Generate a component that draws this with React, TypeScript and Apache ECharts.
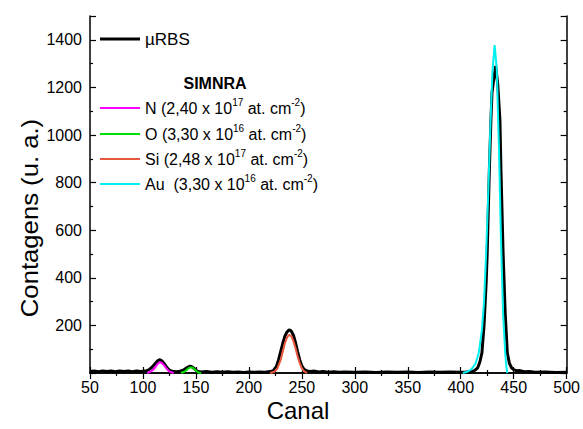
import React, { useEffect, useRef } from "react";
import * as echarts from "echarts";

// Measured µRBS spectrum: [canal, contagens]
const rbsData: [number, number][] = [
  [50, 6], [54, 8], [58, 5], [62, 9], [66, 6], [70, 8], [74, 5], [78, 9], [82, 6], [86, 8],
  [90, 5], [94, 9], [98, 6], [102, 8], [105, 12], [108, 22], [110, 32], [112, 42], [114, 52],
  [116, 56], [118, 50], [120, 40], [122, 27], [124, 16], [126, 10], [129, 6], [132, 5],
  [135, 8], [138, 12], [140, 18], [142, 24], [144, 28], [146, 27], [148, 20], [150, 12],
  [152, 6], [155, 4], [160, 6], [165, 3], [170, 5], [175, 3], [180, 5], [185, 3], [190, 4],
  [195, 2], [200, 4], [205, 3], [210, 4], [215, 3], [220, 6], [223, 10], [226, 28], [228, 55],
  [230, 90], [232, 125], [234, 155], [236, 172], [238, 182], [240, 176], [242, 160],
  [244, 128], [246, 90], [248, 55], [250, 30], [252, 16], [255, 8], [258, 6], [262, 8],
  [266, 4], [270, 6], [275, 3], [280, 5], [285, 3], [290, 4], [300, 3], [310, 4], [320, 2],
  [330, 4], [340, 3], [350, 4], [360, 2], [370, 4], [380, 3], [390, 4], [400, 3], [405, 4],
  [410, 6], [413, 10], [416, 22], [418, 45], [420, 84], [422, 200], [424, 380], [425, 504],
  [427, 850], [428.5, 1063], [429.5, 1176], [431, 1230], [433, 1290], [435, 1210],
  [437, 1063], [438, 850], [440, 504], [442, 250], [444, 84], [446, 40], [448, 22],
  [450, 14], [453, 9], [456, 10], [460, 5], [465, 6], [470, 3], [480, 4], [490, 2], [500, 3],
];

// SIMNRA simulations, one per element
const nData: [number, number][] = [
  [104, 0], [107, 5], [110, 15], [112, 27], [114, 39], [116, 45], [118, 42], [120, 32],
  [122, 20], [124, 10], [126, 4], [129, 0],
];
const oData: [number, number][] = [
  [136, 0], [139, 5], [141, 12], [143, 20], [145, 24], [147, 22], [149, 15], [151, 6],
  [153, 1], [155, 0],
];
const siData: [number, number][] = [
  [220, 0], [224, 5], [227, 20], [230, 55], [232, 90], [234, 125], [236, 150], [238, 160],
  [240, 155], [242, 135], [244, 105], [246, 70], [248, 42], [250, 20], [252, 8], [255, 0],
];
const auData: [number, number][] = [
  [402, 0], [406, 5], [410, 15], [414, 40], [417, 84], [420, 180], [422, 300], [424, 504],
  [426, 760], [428, 1040], [430, 1270], [432, 1378], [434, 1280], [436, 960], [438, 560],
  [440, 250], [442, 84], [443, 30], [444, 0],
];

const xTicks = { min: 50, max: 500, interval: 50 };
const yTicks = { min: 0, max: 1500, interval: 200 };

const FONT = "'Liberation Sans', Arial, sans-serif";

const legendRows = [
  { color: "#ff00ff", label: "N (2,40 x 10{s|17} at. cm{s|-2})" },
  { color: "#00e000", label: "O (3,30 x 10{s|16} at. cm{s|-2})" },
  { color: "#e8583c", label: "Si (2,48 x 10{s|17} at. cm{s|-2})" },
  { color: "#00f0f0", label: "Au  (3,30 x 10{s|16} at. cm{s|-2})" },
];

export default function App() {
  const ref = useRef<HTMLDivElement>(null);

  useEffect(() => {
    if (!ref.current) return;
    const chart = echarts.init(ref.current, null, { renderer: "svg" });

    const axisLine = { show: true, lineStyle: { color: "#000", width: 1.5 } };
    const tick = { show: true, inside: true, length: 6, lineStyle: { color: "#000", width: 1.2 } };
    const minor = { show: true, splitNumber: 2, length: 3, lineStyle: { color: "#000", width: 1.2 } };

    const rows: any[] = [];
    const rowY = [108, 134, 159, 184];
    legendRows.forEach((r, i) => {
      rows.push({
        type: "line",
        shape: { x1: 100, y1: rowY[i], x2: 140, y2: rowY[i] },
        style: { stroke: r.color, lineWidth: 2 },
      });
      rows.push({
        type: "text",
        x: 145,
        y: rowY[i],
        style: {
          text: r.label,
          fill: "#000",
          font: `16px ${FONT}`,
          lineHeight: 22,
          verticalAlign: "middle",
          rich: {
            s: { fontSize: 10, fontFamily: FONT, verticalAlign: "top", lineHeight: 10, fill: "#000" },
          },
        },
      });
    });

    chart.setOption({
      animation: false,
      backgroundColor: "#fff",
      grid: { left: 90, right: 15, top: 16, bottom: 56 },
      xAxis: [
        {
          type: "value",
          ...xTicks,
          axisLine,
          axisTick: tick,
          minorTick: minor,
          splitLine: { show: false },
          axisLabel: { fontFamily: FONT, fontSize: 16, color: "#000", margin: 6 },
        },
        {
          type: "value",
          position: "top",
          ...xTicks,
          axisLine,
          axisTick: tick,
          minorTick: minor,
          splitLine: { show: false },
          axisLabel: { show: false },
        },
      ],
      yAxis: [
        {
          type: "value",
          ...yTicks,
          axisLine,
          axisTick: tick,
          minorTick: minor,
          splitLine: { show: false },
          axisLabel: {
            fontFamily: FONT,
            fontSize: 16,
            color: "#000",
            margin: 8,
            showMinLabel: false,
            showMaxLabel: false,
            formatter: (v: number) => String(v),
          },
        },
        {
          type: "value",
          position: "right",
          ...yTicks,
          axisLine,
          axisTick: tick,
          minorTick: minor,
          splitLine: { show: false },
          axisLabel: { show: false },
        },
      ],
      series: [
        {
          name: "µRBS",
          type: "line",
          data: rbsData,
          showSymbol: false,
          lineStyle: { color: "#000", width: 3 },
          z: 2,
        },
        { name: "N", type: "line", data: nData, showSymbol: false, lineStyle: { color: legendRows[0].color, width: 2 }, z: 3 },
        { name: "O", type: "line", data: oData, showSymbol: false, lineStyle: { color: legendRows[1].color, width: 2 }, z: 3 },
        { name: "Si", type: "line", data: siData, showSymbol: false, lineStyle: { color: legendRows[2].color, width: 2 }, z: 3 },
        { name: "Au", type: "line", data: auData, showSymbol: false, lineStyle: { color: legendRows[3].color, width: 2 }, z: 3 },
      ],
      graphic: [
        {
          type: "text",
          x: 298,
          y: 410,
          style: { text: "Canal", fill: "#000", font: `24px ${FONT}`, align: "center", verticalAlign: "middle" },
        },
        {
          type: "text",
          x: 30,
          y: 218,
          rotation: Math.PI / 2,
          scaleX: 1.07,
          style: {
            text: "Contagens (u. a.)",
            fill: "#000",
            font: `24px ${FONT}`,
            align: "center",
            verticalAlign: "middle",
          },
        },
        {
          type: "line",
          shape: { x1: 100, y1: 39, x2: 140, y2: 39 },
          style: { stroke: "#000", lineWidth: 3 },
        },
        {
          type: "text",
          x: 145,
          y: 39,
          style: { text: "µRBS", fill: "#000", font: `17px ${FONT}`, verticalAlign: "middle" },
        },
        {
          type: "text",
          x: 215,
          y: 83,
          style: {
            text: "SIMNRA",
            fill: "#000",
            font: `bold 16px ${FONT}`,
            align: "center",
            verticalAlign: "middle",
          },
        },
        ...rows,
      ],
    });

    return () => chart.dispose();
  }, []);

  return <div ref={ref} style={{ width: 583, height: 429, position: "absolute", left: 0, top: 0 }} />;
}
